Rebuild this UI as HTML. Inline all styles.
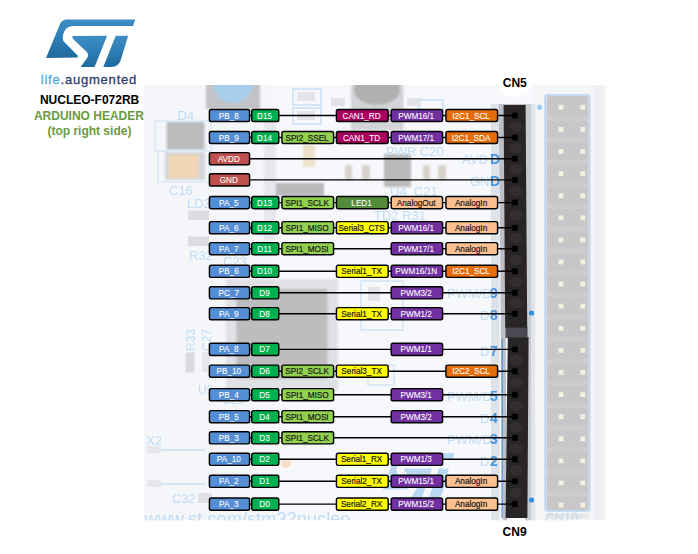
<!DOCTYPE html>
<html><head><meta charset="utf-8"><title>NUCLEO-F072RB Arduino header</title>
<style>
html,body{margin:0;padding:0;background:#fff;}
body{width:698px;height:554px;overflow:hidden;position:relative;font-family:"Liberation Sans",sans-serif;}
svg{position:absolute;left:0;top:0;display:block;}
svg text{font-family:"Liberation Sans",sans-serif;}
.lbl text{font-size:9.0px;}
.ln line{stroke:#000;stroke-width:1.4;}
</style></head><body>
<svg width="698" height="554" viewBox="0 0 698 554">
<defs>
<filter id="b1" x="-20%" y="-20%" width="140%" height="140%"><feGaussianBlur stdDeviation="1.2"/></filter>
<filter id="b2" x="-20%" y="-20%" width="140%" height="140%"><feGaussianBlur stdDeviation="2.5"/></filter>
<filter id="b05" x="-20%" y="-20%" width="140%" height="140%"><feGaussianBlur stdDeviation="0.6"/></filter>
<linearGradient id="lg" x1="0" y1="0" x2="0" y2="1"><stop offset="0" stop-color="#3f8fc6"/><stop offset="0.45" stop-color="#2f7fb6"/><stop offset="1" stop-color="#1f6a9f"/></linearGradient>
<clipPath id="bc"><rect x="144.2" y="85" width="464" height="435.3"/></clipPath>
</defs>
<rect width="698" height="554" fill="#fff"/>
<g clip-path="url(#bc)">
<linearGradient id="bgr" gradientUnits="userSpaceOnUse" x1="592" y1="0" x2="607" y2="0"><stop offset="0" stop-color="#eeeff2"/><stop offset="0.75" stop-color="#f1f1f4"/><stop offset="1" stop-color="#ffffff"/></linearGradient>
<rect x="144" y="85" width="449" height="436" fill="#f7f8fb"/>
<rect x="144" y="85" width="130" height="436" fill="#f4f6fa"/>
<rect x="592" y="85" width="16" height="436" fill="url(#bgr)"/>
<rect x="534" y="85" width="60" height="436" fill="#f4f5f7"/>
<g filter="url(#b1)">
<rect x="206" y="82" width="54" height="27" fill="#c1c3c7"/>
<circle cx="233" cy="83.7" r="19.4" fill="#a8d0ec"/>
<rect x="351" y="82" width="52.5" height="48" fill="#d3d4d7"/>
<ellipse cx="377" cy="90" rx="23" ry="15" fill="#b0b0b2"/>
<rect x="166" y="124" width="40" height="26" fill="#e0e2e5"/>
<rect x="167" y="121.5" width="37" height="28" fill="#bbbbbd"/>
<rect x="165" y="152" width="40" height="28" fill="#d4d5d8"/>
<rect x="169" y="155" width="29" height="23" fill="#f1d6b4"/>
<rect x="264" y="110" width="12" height="130" fill="#e6e7ea"/>
<rect x="303" y="145" width="12" height="22" fill="#ebe2c9"/>
<rect x="276" y="183" width="48" height="13" fill="#b9b9bb"/>
<rect x="384" y="154" width="27" height="33" fill="#bababc"/>
<rect x="345" y="165" width="7" height="15" fill="#d8d4cc"/>
<rect x="362" y="165" width="8" height="15" fill="#d8d4cc"/>
<rect x="423" y="165" width="7" height="15" fill="#d8d4cc"/>
<rect x="438" y="165" width="8" height="15" fill="#d8d4cc"/>
<rect x="226" y="279" width="112" height="111" fill="#e0e1e4"/>
<rect x="236.5" y="289" width="91" height="90" rx="3" fill="#bdbdbf"/>
</g>
<g filter="url(#b05)">
<rect x="188" y="210.5" width="21" height="9.5" fill="#dcdde0"/>
<rect x="188" y="236.5" width="21" height="9.5" fill="#dcdde0"/>
<rect x="185.5" y="352.5" width="9" height="20" fill="#d9dadd"/>
<rect x="202" y="352.5" width="8" height="20" fill="#e6e7ea"/>
<rect x="147" y="449.3" width="58" height="1.6" fill="#cfe0f0"/>
<rect x="147" y="483.3" width="58" height="1.6" fill="#cfe0f0"/>
<rect x="198" y="493" width="14" height="10" fill="#dfe0e3"/>
<rect x="147" y="446" width="14" height="7" fill="#e6e7ea"/><rect x="147" y="480" width="14" height="7" fill="#e6e7ea"/>
<circle cx="286" cy="463" r="5" fill="#f7dfc8"/>
<rect x="361" y="281" width="42" height="49" fill="none" stroke="#dbe9f7" stroke-width="2"/>
<rect x="368" y="287" width="12" height="14" fill="#e3e4e7"/>
<rect x="368" y="365" width="26" height="20" fill="none" stroke="#dbe9f7" stroke-width="2"/>
<rect x="155" y="121" width="56" height="30" fill="none" stroke="#dbe9f7" stroke-width="1.5"/>
<rect x="158" y="151" width="52" height="31" fill="none" stroke="#dbe9f7" stroke-width="1.5"/>
</g>
<g filter="url(#b05)" fill="none" stroke="#d3e6f7" stroke-width="2">
<rect x="293" y="89" width="28" height="16"/><rect x="293" y="108" width="28" height="16"/>
<rect x="419" y="100" width="24" height="10" />
</g>
<g filter="url(#b05)"><rect x="297" y="92" width="18" height="9" fill="#e4e5e8"/><rect x="297" y="111" width="18" height="9" fill="#e4e5e8"/>
<rect x="331" y="98" width="14" height="8" fill="#e2e3e6"/><rect x="407" y="98" width="14" height="8" fill="#e2e3e6"/></g>
<g fill="#bfdcf4" font-size="13" filter="url(#b05)">
<text x="177.5" y="120.3">D4</text>
<text x="169" y="194.5">C16</text>
<text x="187" y="208">LD3</text>
<text x="189" y="259.5">R32</text>
<text x="223" y="266">C23</text>
<text x="146" y="444.5">X2</text>
<text x="198" y="394" font-size="12">U5</text>
<text transform="translate(194.5,351) rotate(-90)" font-size="12">R33</text>
<text transform="translate(210.5,351) rotate(-90)" font-size="12">C27</text>
<text x="222" y="404" font-size="12">C29</text>
<text x="172" y="503">C32</text>
<text x="386" y="155.5">PWR C20</text>
<text x="390" y="196">U4&#160; C21</text>
<text x="374" y="220">TD2 R31</text>
<text x="545" y="522">CN10</text>
<text x="462" y="164">AVD</text>
<text x="470" y="186">GN</text>
<text x="447" y="298">PWM/D</text>
<text x="480" y="320">D</text>
<text x="480" y="356">D</text>
<text x="447" y="401">PWM/D</text>
<text x="480" y="423">D</text>
<text x="447" y="444">PWM/D</text>
<text x="480" y="466">D</text>
<text x="144.5" y="525.3" font-size="18" textLength="206" lengthAdjust="spacingAndGlyphs">www.st.com/stm32nucleo</text>
</g>

<g fill="#b9d9f3" filter="url(#b05)" transform="translate(346.2,434.5) scale(0.8,0.95)">
<path d="M66,19.4 L135.2,19.4 L133.1,26.1 L72.5,26.1 Q67,26.5 64.5,31 Q62,36 63.3,41.1 L77.9,55.7 L77.4,57.6 L46,57.9 L59.8,24.5 Q61.5,19.6 66,19.4 Z"/>
<path d="M72.5,35.9 L107.1,35.7 L94.6,67.1 L80.6,67.1 L87.5,57.5 Q89,54 86.3,51.5 L73.6,39.5 Q72,37.5 72.5,35.9 Z"/>
<path d="M115.7,35.7 L128.2,35.7 L120.6,60.5 Q118.5,66.5 111.4,67.1 L103.3,67.1 Z"/>
</g>

<g filter="url(#b05)"><rect x="545.2" y="95" width="44.4" height="416" fill="none" stroke="#b5d5ef" stroke-width="1.6" rx="2"/><rect x="546.5" y="96" width="42" height="414" fill="#c7c7c9" rx="2"/><rect x="546.5" y="115.80" width="42" height="5" fill="#d2d2d4" opacity="0.45"/><rect x="558.6" y="104.90" width="4.8" height="4.8" fill="#f6f0e0" filter="url(#b05)"/><rect x="580.4" y="104.90" width="4.8" height="4.8" fill="#f6f0e0" filter="url(#b05)"/><rect x="546.5" y="137.90" width="42" height="5" fill="#d2d2d4" opacity="0.45"/><rect x="558.6" y="127.00" width="4.8" height="4.8" fill="#f6f0e0" filter="url(#b05)"/><rect x="580.4" y="127.00" width="4.8" height="4.8" fill="#f6f0e0" filter="url(#b05)"/><rect x="546.5" y="160.00" width="42" height="5" fill="#d2d2d4" opacity="0.45"/><rect x="558.6" y="149.10" width="4.8" height="4.8" fill="#f6f0e0" filter="url(#b05)"/><rect x="580.4" y="149.10" width="4.8" height="4.8" fill="#f6f0e0" filter="url(#b05)"/><rect x="546.5" y="182.10" width="42" height="5" fill="#d2d2d4" opacity="0.45"/><rect x="558.6" y="171.20" width="4.8" height="4.8" fill="#f6f0e0" filter="url(#b05)"/><rect x="580.4" y="171.20" width="4.8" height="4.8" fill="#f6f0e0" filter="url(#b05)"/><rect x="546.5" y="204.20" width="42" height="5" fill="#d2d2d4" opacity="0.45"/><rect x="558.6" y="193.30" width="4.8" height="4.8" fill="#f6f0e0" filter="url(#b05)"/><rect x="580.4" y="193.30" width="4.8" height="4.8" fill="#f6f0e0" filter="url(#b05)"/><rect x="546.5" y="226.30" width="42" height="5" fill="#d2d2d4" opacity="0.45"/><rect x="558.6" y="215.40" width="4.8" height="4.8" fill="#f6f0e0" filter="url(#b05)"/><rect x="580.4" y="215.40" width="4.8" height="4.8" fill="#f6f0e0" filter="url(#b05)"/><rect x="546.5" y="248.40" width="42" height="5" fill="#d2d2d4" opacity="0.45"/><rect x="558.6" y="237.50" width="4.8" height="4.8" fill="#f6f0e0" filter="url(#b05)"/><rect x="580.4" y="237.50" width="4.8" height="4.8" fill="#f6f0e0" filter="url(#b05)"/><rect x="546.5" y="270.50" width="42" height="5" fill="#d2d2d4" opacity="0.45"/><rect x="558.6" y="259.60" width="4.8" height="4.8" fill="#f6f0e0" filter="url(#b05)"/><rect x="580.4" y="259.60" width="4.8" height="4.8" fill="#f6f0e0" filter="url(#b05)"/><rect x="546.5" y="292.60" width="42" height="5" fill="#d2d2d4" opacity="0.45"/><rect x="558.6" y="281.70" width="4.8" height="4.8" fill="#f6f0e0" filter="url(#b05)"/><rect x="580.4" y="281.70" width="4.8" height="4.8" fill="#f6f0e0" filter="url(#b05)"/><rect x="546.5" y="314.70" width="42" height="5" fill="#d2d2d4" opacity="0.45"/><rect x="558.6" y="303.80" width="4.8" height="4.8" fill="#f6f0e0" filter="url(#b05)"/><rect x="580.4" y="303.80" width="4.8" height="4.8" fill="#f6f0e0" filter="url(#b05)"/><rect x="546.5" y="336.80" width="42" height="5" fill="#d2d2d4" opacity="0.45"/><rect x="558.6" y="325.90" width="4.8" height="4.8" fill="#f6f0e0" filter="url(#b05)"/><rect x="580.4" y="325.90" width="4.8" height="4.8" fill="#f6f0e0" filter="url(#b05)"/><rect x="546.5" y="358.90" width="42" height="5" fill="#d2d2d4" opacity="0.45"/><rect x="558.6" y="348.00" width="4.8" height="4.8" fill="#f6f0e0" filter="url(#b05)"/><rect x="580.4" y="348.00" width="4.8" height="4.8" fill="#f6f0e0" filter="url(#b05)"/><rect x="546.5" y="381.00" width="42" height="5" fill="#d2d2d4" opacity="0.45"/><rect x="558.6" y="370.10" width="4.8" height="4.8" fill="#f6f0e0" filter="url(#b05)"/><rect x="580.4" y="370.10" width="4.8" height="4.8" fill="#f6f0e0" filter="url(#b05)"/><rect x="546.5" y="403.10" width="42" height="5" fill="#d2d2d4" opacity="0.45"/><rect x="558.6" y="392.20" width="4.8" height="4.8" fill="#f6f0e0" filter="url(#b05)"/><rect x="580.4" y="392.20" width="4.8" height="4.8" fill="#f6f0e0" filter="url(#b05)"/><rect x="546.5" y="425.20" width="42" height="5" fill="#d2d2d4" opacity="0.45"/><rect x="558.6" y="414.30" width="4.8" height="4.8" fill="#f6f0e0" filter="url(#b05)"/><rect x="580.4" y="414.30" width="4.8" height="4.8" fill="#f6f0e0" filter="url(#b05)"/><rect x="546.5" y="447.30" width="42" height="5" fill="#d2d2d4" opacity="0.45"/><rect x="558.6" y="436.40" width="4.8" height="4.8" fill="#f6f0e0" filter="url(#b05)"/><rect x="580.4" y="436.40" width="4.8" height="4.8" fill="#f6f0e0" filter="url(#b05)"/><rect x="546.5" y="469.40" width="42" height="5" fill="#d2d2d4" opacity="0.45"/><rect x="558.6" y="458.50" width="4.8" height="4.8" fill="#f6f0e0" filter="url(#b05)"/><rect x="580.4" y="458.50" width="4.8" height="4.8" fill="#f6f0e0" filter="url(#b05)"/><rect x="546.5" y="491.50" width="42" height="5" fill="#d2d2d4" opacity="0.45"/><rect x="558.6" y="480.60" width="4.8" height="4.8" fill="#f6f0e0" filter="url(#b05)"/><rect x="580.4" y="480.60" width="4.8" height="4.8" fill="#f6f0e0" filter="url(#b05)"/><rect x="546.5" y="513.60" width="42" height="5" fill="#d2d2d4" opacity="0.45"/><rect x="558.6" y="502.70" width="4.8" height="4.8" fill="#f6f0e0" filter="url(#b05)"/><rect x="580.4" y="502.70" width="4.8" height="4.8" fill="#f6f0e0" filter="url(#b05)"/></g>
<g><rect x="491" y="104" width="8.5" height="417" fill="#dfe2e8"/><polygon points="498.7,104 504,104 507,521 502.8,521" fill="#bcbfc7"/><rect x="525" y="104" width="6.5" height="417" fill="#c9ccd3"/><rect x="531.5" y="104" width="3.5" height="417" fill="#e2e4ea"/><circle cx="539.5" cy="107.3" r="2.6" fill="#9ccbf0"/><circle cx="531.5" cy="313" r="2.6" fill="#2f8fe0"/><circle cx="531.5" cy="500" r="2.6" fill="#2f8fe0"/><rect x="501.5" y="338" width="1.2" height="180" fill="#4a90d0"/><polygon points="503.6,104.8 525.6,104.8 527.2,328 505.2,328" fill="#292526"/><polygon points="507.8,337 528.6,337 527.4,518 505.6,518" fill="#292526"/><rect x="505.5" y="327" width="22" height="11" fill="#35363f" opacity="0.9"/><ellipse cx="516" cy="126.50" rx="6.5" ry="5" fill="#343132" opacity="0.9"/><ellipse cx="516" cy="148.10" rx="6.5" ry="5" fill="#343132" opacity="0.9"/><ellipse cx="516" cy="169.30" rx="6.5" ry="5" fill="#343132" opacity="0.9"/><ellipse cx="516" cy="191.25" rx="6.5" ry="5" fill="#343132" opacity="0.9"/><ellipse cx="516" cy="215.15" rx="6.5" ry="5" fill="#343132" opacity="0.9"/><ellipse cx="516" cy="238.20" rx="6.5" ry="5" fill="#343132" opacity="0.9"/><ellipse cx="516" cy="260.00" rx="6.5" ry="5" fill="#343132" opacity="0.9"/><ellipse cx="516" cy="282.05" rx="6.5" ry="5" fill="#343132" opacity="0.9"/><ellipse cx="516" cy="303.25" rx="6.5" ry="5" fill="#343132" opacity="0.9"/><ellipse cx="516" cy="360.30" rx="6.5" ry="5" fill="#343132" opacity="0.9"/><ellipse cx="516" cy="382.95" rx="6.5" ry="5" fill="#343132" opacity="0.9"/><ellipse cx="516" cy="405.70" rx="6.5" ry="5" fill="#343132" opacity="0.9"/><ellipse cx="516" cy="427.25" rx="6.5" ry="5" fill="#343132" opacity="0.9"/><ellipse cx="516" cy="448.55" rx="6.5" ry="5" fill="#343132" opacity="0.9"/><ellipse cx="516" cy="470.30" rx="6.5" ry="5" fill="#343132" opacity="0.9"/><ellipse cx="516" cy="492.70" rx="6.5" ry="5" fill="#343132" opacity="0.9"/><rect x="512.2" y="112.50" width="5.6" height="6" rx="1.2" fill="#000"/><rect x="512.2" y="134.50" width="5.6" height="6" rx="1.2" fill="#000"/><rect x="512.2" y="155.70" width="5.6" height="6" rx="1.2" fill="#000"/><rect x="512.2" y="176.90" width="5.6" height="6" rx="1.2" fill="#000"/><rect x="512.2" y="199.60" width="5.6" height="6" rx="1.2" fill="#000"/><rect x="512.2" y="224.70" width="5.6" height="6" rx="1.2" fill="#000"/><rect x="512.2" y="245.70" width="5.6" height="6" rx="1.2" fill="#000"/><rect x="512.2" y="268.30" width="5.6" height="6" rx="1.2" fill="#000"/><rect x="512.2" y="289.80" width="5.6" height="6" rx="1.2" fill="#000"/><rect x="512.2" y="310.70" width="5.6" height="6" rx="1.2" fill="#000"/><rect x="512.2" y="346.40" width="5.6" height="6" rx="1.2" fill="#000"/><rect x="512.2" y="368.20" width="5.6" height="6" rx="1.2" fill="#000"/><rect x="512.2" y="391.70" width="5.6" height="6" rx="1.2" fill="#000"/><rect x="512.2" y="413.70" width="5.6" height="6" rx="1.2" fill="#000"/><rect x="512.2" y="434.80" width="5.6" height="6" rx="1.2" fill="#000"/><rect x="512.2" y="456.30" width="5.6" height="6" rx="1.2" fill="#000"/><rect x="512.2" y="478.30" width="5.6" height="6" rx="1.2" fill="#000"/><rect x="512.2" y="501.10" width="5.6" height="6" rx="1.2" fill="#000"/></g>
<g fill="#4a96dc" font-size="14" font-weight="bold" filter="url(#b05)">
<text x="490" y="164">D</text>
<text x="490" y="186">D</text>
<text x="490" y="298">9</text>
<text x="490" y="320">8</text>
<text x="490" y="356">7</text>
<text x="490" y="401">5</text>
<text x="490" y="423">4</text>
<text x="490" y="444">3</text>
<text x="490" y="466">2</text>
</g>
</g>
<ellipse cx="515" cy="84" rx="17" ry="13" fill="#fff" filter="url(#b1)"/>
<g class="ln"><line x1="249" y1="115.50" x2="514" y2="115.50"/><line x1="249" y1="137.50" x2="514" y2="137.50"/><line x1="249" y1="158.70" x2="514" y2="158.70"/><line x1="249" y1="179.90" x2="514" y2="179.90"/><line x1="249" y1="202.60" x2="514" y2="202.60"/><line x1="249" y1="227.70" x2="514" y2="227.70"/><line x1="249" y1="248.70" x2="514" y2="248.70"/><line x1="249" y1="271.30" x2="514" y2="271.30"/><line x1="249" y1="292.80" x2="514" y2="292.80"/><line x1="249" y1="313.70" x2="514" y2="313.70"/><line x1="249" y1="349.40" x2="514" y2="349.40"/><line x1="249" y1="371.20" x2="514" y2="371.20"/><line x1="249" y1="394.70" x2="514" y2="394.70"/><line x1="249" y1="416.70" x2="514" y2="416.70"/><line x1="249" y1="437.80" x2="514" y2="437.80"/><line x1="249" y1="459.30" x2="514" y2="459.30"/><line x1="249" y1="481.30" x2="514" y2="481.30"/><line x1="249" y1="504.10" x2="514" y2="504.10"/></g>
<g class="lbl"><rect x="209.42" y="109.42" width="40.15" height="12.15" rx="1.8" fill="#558ED5" stroke="#000" stroke-width="1.45"/><text transform="translate(228.80,118.50) scale(0.91,1)" fill="#fff" stroke="#fff" stroke-width="0.08" text-anchor="middle">PB_8</text><rect x="251.72" y="109.42" width="27.05" height="12.15" rx="1.8" fill="#00B050" stroke="#000" stroke-width="1.45"/><text transform="translate(264.55,118.50) scale(0.91,1)" fill="#fff" stroke="#fff" stroke-width="0.08" text-anchor="middle">D15</text><rect x="336.43" y="109.42" width="51.75" height="12.15" rx="1.8" fill="#A8005F" stroke="#000" stroke-width="1.45"/><text transform="translate(361.60,118.50) scale(0.91,1)" fill="#fff" stroke="#fff" stroke-width="0.08" text-anchor="middle">CAN1_RD</text><rect x="391.23" y="109.42" width="51.35" height="12.15" rx="1.8" fill="#7030A0" stroke="#000" stroke-width="1.45"/><text transform="translate(416.20,118.50) scale(0.91,1)" fill="#fff" stroke="#fff" stroke-width="0.08" text-anchor="middle">PWM16/1</text><rect x="445.93" y="109.42" width="51.65" height="12.15" rx="1.8" fill="#E46C0A" stroke="#000" stroke-width="1.45"/><text transform="translate(471.05,118.50) scale(0.91,1)" fill="#fff" stroke="#fff" stroke-width="0.08" text-anchor="middle">I2C1_SCL</text><rect x="209.42" y="131.42" width="40.15" height="12.15" rx="1.8" fill="#558ED5" stroke="#000" stroke-width="1.45"/><text transform="translate(228.80,140.50) scale(0.91,1)" fill="#fff" stroke="#fff" stroke-width="0.08" text-anchor="middle">PB_9</text><rect x="251.72" y="131.42" width="27.05" height="12.15" rx="1.8" fill="#00B050" stroke="#000" stroke-width="1.45"/><text transform="translate(264.55,140.50) scale(0.91,1)" fill="#fff" stroke="#fff" stroke-width="0.08" text-anchor="middle">D14</text><rect x="281.93" y="131.42" width="51.65" height="12.15" rx="1.8" fill="#92D050" stroke="#000" stroke-width="1.45"/><text transform="translate(307.05,140.50) scale(0.91,1)" fill="#1a1a1a" stroke="#1a1a1a" stroke-width="0.22" text-anchor="middle">SPI2_SSEL</text><rect x="336.43" y="131.42" width="51.75" height="12.15" rx="1.8" fill="#A8005F" stroke="#000" stroke-width="1.45"/><text transform="translate(361.60,140.50) scale(0.91,1)" fill="#fff" stroke="#fff" stroke-width="0.08" text-anchor="middle">CAN1_TD</text><rect x="391.23" y="131.42" width="51.35" height="12.15" rx="1.8" fill="#7030A0" stroke="#000" stroke-width="1.45"/><text transform="translate(416.20,140.50) scale(0.91,1)" fill="#fff" stroke="#fff" stroke-width="0.08" text-anchor="middle">PWM17/1</text><rect x="445.93" y="131.42" width="51.65" height="12.15" rx="1.8" fill="#E46C0A" stroke="#000" stroke-width="1.45"/><text transform="translate(471.05,140.50) scale(0.91,1)" fill="#fff" stroke="#fff" stroke-width="0.08" text-anchor="middle">I2C1_SDA</text><rect x="209.42" y="152.62" width="40.15" height="12.15" rx="1.8" fill="#C0504D" stroke="#000" stroke-width="1.45"/><text transform="translate(228.80,161.70) scale(0.91,1)" fill="#fff" stroke="#fff" stroke-width="0.08" text-anchor="middle">AVDD</text><rect x="209.42" y="173.82" width="40.15" height="12.15" rx="1.8" fill="#C0504D" stroke="#000" stroke-width="1.45"/><text transform="translate(228.80,182.90) scale(0.91,1)" fill="#fff" stroke="#fff" stroke-width="0.08" text-anchor="middle">GND</text><rect x="209.42" y="196.52" width="40.15" height="12.15" rx="1.8" fill="#558ED5" stroke="#000" stroke-width="1.45"/><text transform="translate(228.80,205.60) scale(0.91,1)" fill="#fff" stroke="#fff" stroke-width="0.08" text-anchor="middle">PA_5</text><rect x="251.72" y="196.52" width="27.05" height="12.15" rx="1.8" fill="#00B050" stroke="#000" stroke-width="1.45"/><text transform="translate(264.55,205.60) scale(0.91,1)" fill="#fff" stroke="#fff" stroke-width="0.08" text-anchor="middle">D13</text><rect x="281.93" y="196.52" width="51.65" height="12.15" rx="1.8" fill="#92D050" stroke="#000" stroke-width="1.45"/><text transform="translate(307.05,205.60) scale(0.91,1)" fill="#1a1a1a" stroke="#1a1a1a" stroke-width="0.22" text-anchor="middle">SPI1_SCLK</text><rect x="336.43" y="196.52" width="51.75" height="12.15" rx="1.8" fill="#548C3C" stroke="#000" stroke-width="1.45"/><text transform="translate(361.60,205.60) scale(0.91,1)" fill="#fff" stroke="#fff" stroke-width="0.08" text-anchor="middle">LED1</text><rect x="391.23" y="196.52" width="51.35" height="12.15" rx="1.8" fill="#FAC090" stroke="#000" stroke-width="1.45"/><text transform="translate(416.20,205.60) scale(0.91,1)" fill="#1a1a1a" stroke="#1a1a1a" stroke-width="0.22" text-anchor="middle">AnalogOut</text><rect x="445.93" y="196.52" width="51.65" height="12.15" rx="1.8" fill="#FAC090" stroke="#000" stroke-width="1.45"/><text transform="translate(471.05,205.60) scale(0.91,1)" fill="#1a1a1a" stroke="#1a1a1a" stroke-width="0.22" text-anchor="middle">AnalogIn</text><rect x="209.42" y="221.62" width="40.15" height="12.15" rx="1.8" fill="#558ED5" stroke="#000" stroke-width="1.45"/><text transform="translate(228.80,230.70) scale(0.91,1)" fill="#fff" stroke="#fff" stroke-width="0.08" text-anchor="middle">PA_6</text><rect x="251.72" y="221.62" width="27.05" height="12.15" rx="1.8" fill="#00B050" stroke="#000" stroke-width="1.45"/><text transform="translate(264.55,230.70) scale(0.91,1)" fill="#fff" stroke="#fff" stroke-width="0.08" text-anchor="middle">D12</text><rect x="281.93" y="221.62" width="51.65" height="12.15" rx="1.8" fill="#92D050" stroke="#000" stroke-width="1.45"/><text transform="translate(307.05,230.70) scale(0.91,1)" fill="#1a1a1a" stroke="#1a1a1a" stroke-width="0.22" text-anchor="middle">SPI1_MISO</text><rect x="336.43" y="221.62" width="51.75" height="12.15" rx="1.8" fill="#FFFF00" stroke="#000" stroke-width="1.45"/><text transform="translate(361.60,230.70) scale(0.91,1)" fill="#1a1a1a" stroke="#1a1a1a" stroke-width="0.22" text-anchor="middle">Serial3_CTS</text><rect x="391.23" y="221.62" width="51.35" height="12.15" rx="1.8" fill="#7030A0" stroke="#000" stroke-width="1.45"/><text transform="translate(416.20,230.70) scale(0.91,1)" fill="#fff" stroke="#fff" stroke-width="0.08" text-anchor="middle">PWM16/1</text><rect x="445.93" y="221.62" width="51.65" height="12.15" rx="1.8" fill="#FAC090" stroke="#000" stroke-width="1.45"/><text transform="translate(471.05,230.70) scale(0.91,1)" fill="#1a1a1a" stroke="#1a1a1a" stroke-width="0.22" text-anchor="middle">AnalogIn</text><rect x="209.42" y="242.62" width="40.15" height="12.15" rx="1.8" fill="#558ED5" stroke="#000" stroke-width="1.45"/><text transform="translate(228.80,251.70) scale(0.91,1)" fill="#fff" stroke="#fff" stroke-width="0.08" text-anchor="middle">PA_7</text><rect x="251.72" y="242.62" width="27.05" height="12.15" rx="1.8" fill="#00B050" stroke="#000" stroke-width="1.45"/><text transform="translate(264.55,251.70) scale(0.91,1)" fill="#fff" stroke="#fff" stroke-width="0.08" text-anchor="middle">D11</text><rect x="281.93" y="242.62" width="51.65" height="12.15" rx="1.8" fill="#92D050" stroke="#000" stroke-width="1.45"/><text transform="translate(307.05,251.70) scale(0.91,1)" fill="#1a1a1a" stroke="#1a1a1a" stroke-width="0.22" text-anchor="middle">SPI1_MOSI</text><rect x="391.23" y="242.62" width="51.35" height="12.15" rx="1.8" fill="#7030A0" stroke="#000" stroke-width="1.45"/><text transform="translate(416.20,251.70) scale(0.91,1)" fill="#fff" stroke="#fff" stroke-width="0.08" text-anchor="middle">PWM17/1</text><rect x="445.93" y="242.62" width="51.65" height="12.15" rx="1.8" fill="#FAC090" stroke="#000" stroke-width="1.45"/><text transform="translate(471.05,251.70) scale(0.91,1)" fill="#1a1a1a" stroke="#1a1a1a" stroke-width="0.22" text-anchor="middle">AnalogIn</text><rect x="209.42" y="265.23" width="40.15" height="12.15" rx="1.8" fill="#558ED5" stroke="#000" stroke-width="1.45"/><text transform="translate(228.80,274.30) scale(0.91,1)" fill="#fff" stroke="#fff" stroke-width="0.08" text-anchor="middle">PB_6</text><rect x="251.72" y="265.23" width="27.05" height="12.15" rx="1.8" fill="#00B050" stroke="#000" stroke-width="1.45"/><text transform="translate(264.55,274.30) scale(0.91,1)" fill="#fff" stroke="#fff" stroke-width="0.08" text-anchor="middle">D10</text><rect x="336.43" y="265.23" width="51.75" height="12.15" rx="1.8" fill="#FFFF00" stroke="#000" stroke-width="1.45"/><text transform="translate(361.60,274.30) scale(0.91,1)" fill="#1a1a1a" stroke="#1a1a1a" stroke-width="0.22" text-anchor="middle">Serial1_TX</text><rect x="391.23" y="265.23" width="51.35" height="12.15" rx="1.8" fill="#7030A0" stroke="#000" stroke-width="1.45"/><text transform="translate(416.20,274.30) scale(0.91,1)" fill="#fff" stroke="#fff" stroke-width="0.08" text-anchor="middle">PWM16/1N</text><rect x="445.93" y="265.23" width="51.65" height="12.15" rx="1.8" fill="#E46C0A" stroke="#000" stroke-width="1.45"/><text transform="translate(471.05,274.30) scale(0.91,1)" fill="#fff" stroke="#fff" stroke-width="0.08" text-anchor="middle">I2C1_SCL</text><rect x="209.42" y="286.73" width="40.15" height="12.15" rx="1.8" fill="#558ED5" stroke="#000" stroke-width="1.45"/><text transform="translate(228.80,295.80) scale(0.91,1)" fill="#fff" stroke="#fff" stroke-width="0.08" text-anchor="middle">PC_7</text><rect x="251.72" y="286.73" width="27.05" height="12.15" rx="1.8" fill="#00B050" stroke="#000" stroke-width="1.45"/><text transform="translate(264.55,295.80) scale(0.91,1)" fill="#fff" stroke="#fff" stroke-width="0.08" text-anchor="middle">D9</text><rect x="391.23" y="286.73" width="51.35" height="12.15" rx="1.8" fill="#7030A0" stroke="#000" stroke-width="1.45"/><text transform="translate(416.20,295.80) scale(0.91,1)" fill="#fff" stroke="#fff" stroke-width="0.08" text-anchor="middle">PWM3/2</text><rect x="209.42" y="307.62" width="40.15" height="12.15" rx="1.8" fill="#558ED5" stroke="#000" stroke-width="1.45"/><text transform="translate(228.80,316.70) scale(0.91,1)" fill="#fff" stroke="#fff" stroke-width="0.08" text-anchor="middle">PA_9</text><rect x="251.72" y="307.62" width="27.05" height="12.15" rx="1.8" fill="#00B050" stroke="#000" stroke-width="1.45"/><text transform="translate(264.55,316.70) scale(0.91,1)" fill="#fff" stroke="#fff" stroke-width="0.08" text-anchor="middle">D8</text><rect x="336.43" y="307.62" width="51.75" height="12.15" rx="1.8" fill="#FFFF00" stroke="#000" stroke-width="1.45"/><text transform="translate(361.60,316.70) scale(0.91,1)" fill="#1a1a1a" stroke="#1a1a1a" stroke-width="0.22" text-anchor="middle">Serial1_TX</text><rect x="391.23" y="307.62" width="51.35" height="12.15" rx="1.8" fill="#7030A0" stroke="#000" stroke-width="1.45"/><text transform="translate(416.20,316.70) scale(0.91,1)" fill="#fff" stroke="#fff" stroke-width="0.08" text-anchor="middle">PWM1/2</text><rect x="209.42" y="343.32" width="40.15" height="12.15" rx="1.8" fill="#558ED5" stroke="#000" stroke-width="1.45"/><text transform="translate(228.80,352.40) scale(0.91,1)" fill="#fff" stroke="#fff" stroke-width="0.08" text-anchor="middle">PA_8</text><rect x="251.72" y="343.32" width="27.05" height="12.15" rx="1.8" fill="#00B050" stroke="#000" stroke-width="1.45"/><text transform="translate(264.55,352.40) scale(0.91,1)" fill="#fff" stroke="#fff" stroke-width="0.08" text-anchor="middle">D7</text><rect x="391.23" y="343.32" width="51.35" height="12.15" rx="1.8" fill="#7030A0" stroke="#000" stroke-width="1.45"/><text transform="translate(416.20,352.40) scale(0.91,1)" fill="#fff" stroke="#fff" stroke-width="0.08" text-anchor="middle">PWM1/1</text><rect x="209.42" y="365.12" width="40.15" height="12.15" rx="1.8" fill="#558ED5" stroke="#000" stroke-width="1.45"/><text transform="translate(228.80,374.20) scale(0.91,1)" fill="#fff" stroke="#fff" stroke-width="0.08" text-anchor="middle">PB_10</text><rect x="251.72" y="365.12" width="27.05" height="12.15" rx="1.8" fill="#00B050" stroke="#000" stroke-width="1.45"/><text transform="translate(264.55,374.20) scale(0.91,1)" fill="#fff" stroke="#fff" stroke-width="0.08" text-anchor="middle">D6</text><rect x="281.93" y="365.12" width="51.65" height="12.15" rx="1.8" fill="#92D050" stroke="#000" stroke-width="1.45"/><text transform="translate(307.05,374.20) scale(0.91,1)" fill="#1a1a1a" stroke="#1a1a1a" stroke-width="0.22" text-anchor="middle">SPI2_SCLK</text><rect x="336.43" y="365.12" width="51.75" height="12.15" rx="1.8" fill="#FFFF00" stroke="#000" stroke-width="1.45"/><text transform="translate(361.60,374.20) scale(0.91,1)" fill="#1a1a1a" stroke="#1a1a1a" stroke-width="0.22" text-anchor="middle">Serial3_TX</text><rect x="445.93" y="365.12" width="51.65" height="12.15" rx="1.8" fill="#E46C0A" stroke="#000" stroke-width="1.45"/><text transform="translate(471.05,374.20) scale(0.91,1)" fill="#fff" stroke="#fff" stroke-width="0.08" text-anchor="middle">I2C2_SCL</text><rect x="209.42" y="388.62" width="40.15" height="12.15" rx="1.8" fill="#558ED5" stroke="#000" stroke-width="1.45"/><text transform="translate(228.80,397.70) scale(0.91,1)" fill="#fff" stroke="#fff" stroke-width="0.08" text-anchor="middle">PB_4</text><rect x="251.72" y="388.62" width="27.05" height="12.15" rx="1.8" fill="#00B050" stroke="#000" stroke-width="1.45"/><text transform="translate(264.55,397.70) scale(0.91,1)" fill="#fff" stroke="#fff" stroke-width="0.08" text-anchor="middle">D5</text><rect x="281.93" y="388.62" width="51.65" height="12.15" rx="1.8" fill="#92D050" stroke="#000" stroke-width="1.45"/><text transform="translate(307.05,397.70) scale(0.91,1)" fill="#1a1a1a" stroke="#1a1a1a" stroke-width="0.22" text-anchor="middle">SPI1_MISO</text><rect x="391.23" y="388.62" width="51.35" height="12.15" rx="1.8" fill="#7030A0" stroke="#000" stroke-width="1.45"/><text transform="translate(416.20,397.70) scale(0.91,1)" fill="#fff" stroke="#fff" stroke-width="0.08" text-anchor="middle">PWM3/1</text><rect x="209.42" y="410.62" width="40.15" height="12.15" rx="1.8" fill="#558ED5" stroke="#000" stroke-width="1.45"/><text transform="translate(228.80,419.70) scale(0.91,1)" fill="#fff" stroke="#fff" stroke-width="0.08" text-anchor="middle">PB_5</text><rect x="251.72" y="410.62" width="27.05" height="12.15" rx="1.8" fill="#00B050" stroke="#000" stroke-width="1.45"/><text transform="translate(264.55,419.70) scale(0.91,1)" fill="#fff" stroke="#fff" stroke-width="0.08" text-anchor="middle">D4</text><rect x="281.93" y="410.62" width="51.65" height="12.15" rx="1.8" fill="#92D050" stroke="#000" stroke-width="1.45"/><text transform="translate(307.05,419.70) scale(0.91,1)" fill="#1a1a1a" stroke="#1a1a1a" stroke-width="0.22" text-anchor="middle">SPI1_MOSI</text><rect x="391.23" y="410.62" width="51.35" height="12.15" rx="1.8" fill="#7030A0" stroke="#000" stroke-width="1.45"/><text transform="translate(416.20,419.70) scale(0.91,1)" fill="#fff" stroke="#fff" stroke-width="0.08" text-anchor="middle">PWM3/2</text><rect x="209.42" y="431.73" width="40.15" height="12.15" rx="1.8" fill="#558ED5" stroke="#000" stroke-width="1.45"/><text transform="translate(228.80,440.80) scale(0.91,1)" fill="#fff" stroke="#fff" stroke-width="0.08" text-anchor="middle">PB_3</text><rect x="251.72" y="431.73" width="27.05" height="12.15" rx="1.8" fill="#00B050" stroke="#000" stroke-width="1.45"/><text transform="translate(264.55,440.80) scale(0.91,1)" fill="#fff" stroke="#fff" stroke-width="0.08" text-anchor="middle">D3</text><rect x="281.93" y="431.73" width="51.65" height="12.15" rx="1.8" fill="#92D050" stroke="#000" stroke-width="1.45"/><text transform="translate(307.05,440.80) scale(0.91,1)" fill="#1a1a1a" stroke="#1a1a1a" stroke-width="0.22" text-anchor="middle">SPI1_SCLK</text><rect x="209.42" y="453.23" width="40.15" height="12.15" rx="1.8" fill="#558ED5" stroke="#000" stroke-width="1.45"/><text transform="translate(228.80,462.30) scale(0.91,1)" fill="#fff" stroke="#fff" stroke-width="0.08" text-anchor="middle">PA_10</text><rect x="251.72" y="453.23" width="27.05" height="12.15" rx="1.8" fill="#00B050" stroke="#000" stroke-width="1.45"/><text transform="translate(264.55,462.30) scale(0.91,1)" fill="#fff" stroke="#fff" stroke-width="0.08" text-anchor="middle">D2</text><rect x="336.43" y="453.23" width="51.75" height="12.15" rx="1.8" fill="#FFFF00" stroke="#000" stroke-width="1.45"/><text transform="translate(361.60,462.30) scale(0.91,1)" fill="#1a1a1a" stroke="#1a1a1a" stroke-width="0.22" text-anchor="middle">Serial1_RX</text><rect x="391.23" y="453.23" width="51.35" height="12.15" rx="1.8" fill="#7030A0" stroke="#000" stroke-width="1.45"/><text transform="translate(416.20,462.30) scale(0.91,1)" fill="#fff" stroke="#fff" stroke-width="0.08" text-anchor="middle">PWM1/3</text><rect x="209.42" y="475.23" width="40.15" height="12.15" rx="1.8" fill="#558ED5" stroke="#000" stroke-width="1.45"/><text transform="translate(228.80,484.30) scale(0.91,1)" fill="#fff" stroke="#fff" stroke-width="0.08" text-anchor="middle">PA_2</text><rect x="251.72" y="475.23" width="27.05" height="12.15" rx="1.8" fill="#00B050" stroke="#000" stroke-width="1.45"/><text transform="translate(264.55,484.30) scale(0.91,1)" fill="#fff" stroke="#fff" stroke-width="0.08" text-anchor="middle">D1</text><rect x="336.43" y="475.23" width="51.75" height="12.15" rx="1.8" fill="#FFFF00" stroke="#000" stroke-width="1.45"/><text transform="translate(361.60,484.30) scale(0.91,1)" fill="#1a1a1a" stroke="#1a1a1a" stroke-width="0.22" text-anchor="middle">Serial2_TX</text><rect x="391.23" y="475.23" width="51.35" height="12.15" rx="1.8" fill="#7030A0" stroke="#000" stroke-width="1.45"/><text transform="translate(416.20,484.30) scale(0.91,1)" fill="#fff" stroke="#fff" stroke-width="0.08" text-anchor="middle">PWM15/1</text><rect x="445.93" y="475.23" width="51.65" height="12.15" rx="1.8" fill="#FAC090" stroke="#000" stroke-width="1.45"/><text transform="translate(471.05,484.30) scale(0.91,1)" fill="#1a1a1a" stroke="#1a1a1a" stroke-width="0.22" text-anchor="middle">AnalogIn</text><rect x="209.42" y="498.03" width="40.15" height="12.15" rx="1.8" fill="#558ED5" stroke="#000" stroke-width="1.45"/><text transform="translate(228.80,507.10) scale(0.91,1)" fill="#fff" stroke="#fff" stroke-width="0.08" text-anchor="middle">PA_3</text><rect x="251.72" y="498.03" width="27.05" height="12.15" rx="1.8" fill="#00B050" stroke="#000" stroke-width="1.45"/><text transform="translate(264.55,507.10) scale(0.91,1)" fill="#fff" stroke="#fff" stroke-width="0.08" text-anchor="middle">D0</text><rect x="336.43" y="498.03" width="51.75" height="12.15" rx="1.8" fill="#FFFF00" stroke="#000" stroke-width="1.45"/><text transform="translate(361.60,507.10) scale(0.91,1)" fill="#1a1a1a" stroke="#1a1a1a" stroke-width="0.22" text-anchor="middle">Serial2_RX</text><rect x="391.23" y="498.03" width="51.35" height="12.15" rx="1.8" fill="#7030A0" stroke="#000" stroke-width="1.45"/><text transform="translate(416.20,507.10) scale(0.91,1)" fill="#fff" stroke="#fff" stroke-width="0.08" text-anchor="middle">PWM15/2</text><rect x="445.93" y="498.03" width="51.65" height="12.15" rx="1.8" fill="#FAC090" stroke="#000" stroke-width="1.45"/><text transform="translate(471.05,507.10) scale(0.91,1)" fill="#1a1a1a" stroke="#1a1a1a" stroke-width="0.22" text-anchor="middle">AnalogIn</text></g>
<text x="514.8" y="87.3" font-size="12" font-weight="bold" text-anchor="middle" fill="#000">CN5</text>
<text x="514.6" y="536.2" font-size="12" font-weight="bold" text-anchor="middle" fill="#000">CN9</text>
<g fill="url(#lg)">
<path d="M66,19.4 L135.2,19.4 L133.1,26.1 L72.5,26.1 Q67,26.5 64.5,31 Q62,36 63.3,41.1 L77.9,55.7 L77.4,57.6 L46,57.9 L59.8,24.5 Q61.5,19.6 66,19.4 Z"/>
<path d="M72.5,35.9 L107.1,35.7 L94.6,67.1 L80.6,67.1 L87.5,57.5 Q89,54 86.3,51.5 L73.6,39.5 Q72,37.5 72.5,35.9 Z"/>
<path d="M115.7,35.7 L128.2,35.7 L120.6,60.5 Q118.5,66.5 111.4,67.1 L103.3,67.1 Z"/>
</g>
<text x="40.7" y="83.6" font-size="13" textLength="95.6" lengthAdjust="spacing" stroke-width="0.3"><tspan fill="#4aaee6" stroke="#4aaee6">life</tspan><tspan fill="#2e3b7a" stroke="#2e3b7a">.augmented</tspan></text>
<text x="89.6" y="103.5" font-size="12" font-weight="bold" text-anchor="middle" fill="#000">NUCLEO-F072RB</text>
<text x="88.9" y="120.2" font-size="12" font-weight="bold" text-anchor="middle" fill="#6b9a3f">ARDUINO HEADER</text>
<text x="89.4" y="134.8" font-size="12" font-weight="bold" text-anchor="middle" fill="#6b9a3f">(top right side)</text>

</svg>
</body></html>
